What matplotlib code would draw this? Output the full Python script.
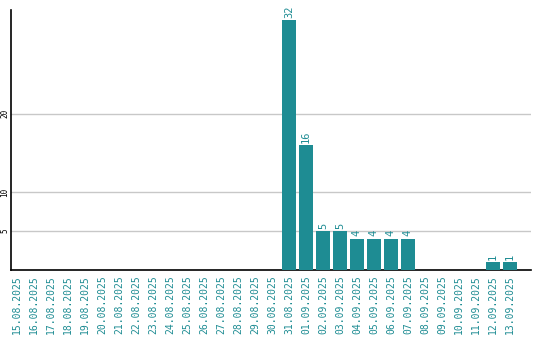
import matplotlib
matplotlib.use("Agg")
import matplotlib.pyplot as plt

dates = ["15.08.2025", "16.08.2025", "17.08.2025", "18.08.2025", "19.08.2025",
	"20.08.2025", "21.08.2025", "22.08.2025", "23.08.2025", "24.08.2025",
	"25.08.2025", "26.08.2025", "27.08.2025", "28.08.2025", "29.08.2025",
	"30.08.2025", "31.08.2025", "01.09.2025", "02.09.2025", "03.09.2025",
	"04.09.2025", "05.09.2025", "06.09.2025", "07.09.2025", "08.09.2025",
	"09.09.2025", "10.09.2025", "11.09.2025", "12.09.2025", "13.09.2025"]
counts = [0, 0, 0, 0, 0, 0, 0, 0, 0, 0, 0, 0, 0, 0, 0, 0,
	32, 16, 5, 5, 4, 4, 4, 4, 0, 0, 0, 0, 1, 1]
yticks = [5, 10, 20]

TEAL = "#1e8c93"
plt.rcParams['font.family'] = ['DejaVu Sans Mono']

fig = plt.figure(figsize=(5.4, 3.4), dpi=100)
ax = fig.add_axes([11 / 540, 70 / 340, 520 / 540, 260 / 340])

x = list(range(len(dates)))
ax.bar(x, counts, width=0.82, color=TEAL, zorder=3)
for i, c in enumerate(counts):
	if c > 0:
		ax.text(i, c + 0.3, str(c), rotation=90, ha="center", va="bottom",
			color=TEAL, fontsize=7.5)

ax.set_xlim(-0.35, len(dates) + 0.24)
ax.set_ylim(0, 33.3)
ax.set_yticks(yticks)
ax.set_yticklabels([str(t) for t in yticks], rotation=90, va="center", fontsize=5.5)
ax.set_xticks(x)
ax.set_xticklabels(dates, rotation=90, color=TEAL, fontsize=7)
ax.tick_params(axis="x", length=0, pad=4)
ax.tick_params(axis="y", length=0, pad=1)
ax.grid(axis="y", color="#c8c8c8", linewidth=1, zorder=0)
ax.spines["top"].set_visible(False)
ax.spines["right"].set_visible(False)
ax.spines["left"].set_linewidth(1.2)
ax.spines["bottom"].set_linewidth(1.2)

fig.savefig("out.png", dpi=100)
